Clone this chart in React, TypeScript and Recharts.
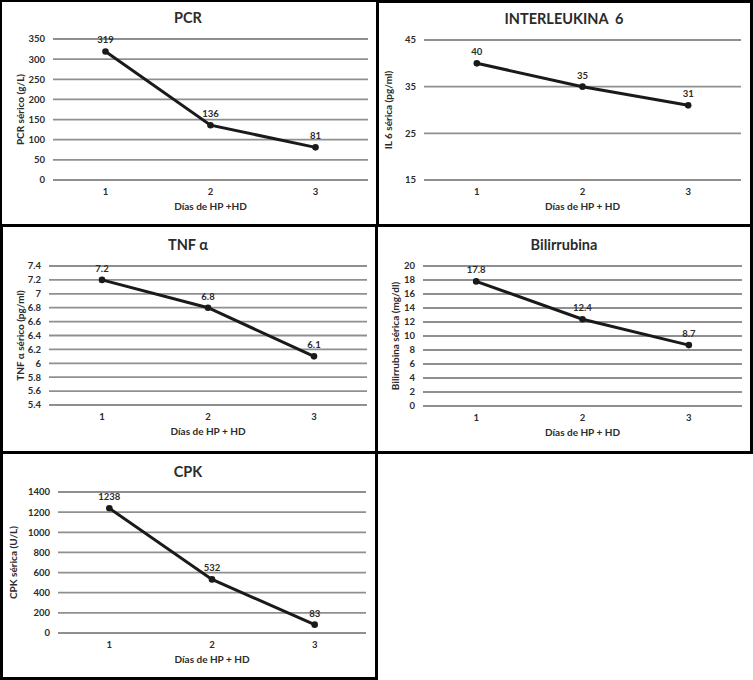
import { CartesianGrid, LabelList, Line, LineChart, XAxis, YAxis } from "recharts";

const days = ["1", "2", "3"];

const pcrValues = [319, 136, 81];
const il6Values = [40, 35, 31];
const tnfValues = [7.2, 6.8, 6.1];
const biliValues = [17.8, 12.4, 8.7];
const cpkValues = [1238, 532, 83];

const pcrTicks = [0, 50, 100, 150, 200, 250, 300, 350];
const il6Ticks = [15, 25, 35, 45];
const tnfTicks = [5.4, 5.6, 5.8, 6, 6.2, 6.4, 6.6, 6.8, 7, 7.2, 7.4];
const biliTicks = [0, 2, 4, 6, 8, 10, 12, 14, 16, 18, 20];
const cpkTicks = [0, 200, 400, 600, 800, 1000, 1200, 1400];

const TEXT = "#2b2b2b";
const FONT = "Lato, 'Open Sans', sans-serif";

const fmt = (v: number) => String(Number(Number(v).toFixed(1)));

interface Box {
  left: number;
  top: number;
  width: number;
  height: number;
}

interface PanelProps {
  title: string;
  titleY: number;
  box: Box;
  margin: { top: number; right: number; bottom: number; left: number };
  yWidth: number;
  yLabelOffset: number;
  values: number[];
  ticks: number[];
  yLabel: string;
  xLabel: string;
}

function Panel({ title, titleY, box, margin, yWidth, yLabelOffset, values, ticks, yLabel, xLabel }: PanelProps) {
  const data = days.map((d, i) => ({ day: d, v: values[i] }));
  // one band per day, points at band centres (Excel-style category axis)
  const pad = (box.width - margin.left - margin.right - yWidth) / (days.length * 2);
  return (
    <>
      <div
        style={{
          position: "absolute",
          left: box.left,
          width: box.width,
          top: titleY - 10,
          height: 20,
          lineHeight: "20px",
          textAlign: "center",
          fontSize: 14.5,
          fontWeight: 700,
          color: TEXT,
          fontFamily: FONT,
          whiteSpace: "pre",
        }}
      >
        {title}
      </div>
      <div style={{ position: "absolute", left: box.left, top: box.top, fontFamily: FONT }}>
        <LineChart width={box.width} height={box.height} data={data} margin={margin}>
          <CartesianGrid vertical={false} stroke="#8f8f8f" strokeWidth={1.8} />
          <XAxis
            dataKey="day"
            axisLine={false}
            tickLine={false}
            height={30}
            padding={{ left: pad, right: pad }}
            tick={{ fill: TEXT, fontSize: 9.5, fontWeight: 700 }}
            label={{ value: xLabel, position: "insideBottom", offset: 0, fill: TEXT, fontSize: 10, fontWeight: 700 }}
          />
          <YAxis
            type="number"
            domain={[ticks[0], ticks[ticks.length - 1]]}
            ticks={ticks}
            interval={0}
            width={yWidth}
            axisLine={false}
            tickLine={false}
            tickFormatter={fmt}
            tick={{ fill: TEXT, fontSize: 9.5, fontWeight: 700 }}
            label={{
              value: yLabel,
              angle: -90,
              position: "insideLeft",
              offset: yLabelOffset,
              fill: TEXT,
              fontSize: 10,
              fontWeight: 700,
              style: { textAnchor: "middle" },
            }}
          />
          <Line
            type="linear"
            dataKey="v"
            stroke="#1a1a1a"
            strokeWidth={3}
            dot={{ r: 3.3, fill: "#1a1a1a", stroke: "none" }}
            isAnimationActive={false}
          >
            <LabelList dataKey="v" position="top" offset={8} fill={TEXT} fontSize={9.5} fontWeight={700} formatter={fmt} />
          </Line>
        </LineChart>
      </div>
    </>
  );
}

const frames = [
  { left: 0, top: 0, width: 378, height: 226, b: 2 },
  { left: 376, top: 0, width: 377, height: 227, b: 3 },
  { left: 0, top: 224, width: 378, height: 230, b: 3 },
  { left: 375, top: 224, width: 378, height: 230, b: 3 },
  { left: 0, top: 451, width: 378, height: 229, b: 3 },
];

export default function App() {
  return (
    <div style={{ position: "absolute", left: 0, top: 0, width: 753, height: 680, background: "#fff", overflow: "hidden" }}>
      <Panel
        title="PCR"
        titleY={18}
        box={{ left: 0, top: 0, width: 376, height: 224 }}
        margin={{ top: 39, right: 8, bottom: 14, left: 13 }}
        yWidth={40}
        yLabelOffset={7}
        values={pcrValues}
        ticks={pcrTicks}
        yLabel="PCR sérico (g/L)"
        xLabel="Días de HP +HD"
      />
      <Panel
        title="INTERLEUKINA  6"
        titleY={19}
        box={{ left: 378, top: 0, width: 372, height: 224 }}
        margin={{ top: 40, right: 9, bottom: 14, left: 6 }}
        yWidth={40}
        yLabelOffset={4}
        values={il6Values}
        ticks={il6Ticks}
        yLabel="IL 6 sérica (pg/ml)"
        xLabel="Días de HP + HD"
      />
      <Panel
        title="TNF α"
        titleY={245}
        box={{ left: 0, top: 226, width: 376, height: 226 }}
        margin={{ top: 40, right: 9, bottom: 17, left: 9 }}
        yWidth={40}
        yLabelOffset={11}
        values={tnfValues}
        ticks={tnfTicks}
        yLabel="TNF α sérico  (pg/ml)"
        xLabel="Días de HP + HD"
      />
      <Panel
        title="Bilirrubina"
        titleY={245}
        box={{ left: 378, top: 226, width: 372, height: 226 }}
        margin={{ top: 40, right: 8, bottom: 16, left: 5 }}
        yWidth={40}
        yLabelOffset={12}
        values={biliValues}
        ticks={biliTicks}
        yLabel="Bilirrubina sérica (mg/dl)"
        xLabel="Días de HP + HD"
      />
      <Panel
        title="CPK"
        titleY={472}
        box={{ left: 0, top: 453, width: 376, height: 225 }}
        margin={{ top: 39, right: 10, bottom: 15, left: 5 }}
        yWidth={53}
        yLabelOffset={8}
        values={cpkValues}
        ticks={cpkTicks}
        yLabel="CPK sérica (U/L)"
        xLabel="Días de HP + HD"
      />
      {frames.map((f, i) => (
        <div
          key={i}
          style={{
            position: "absolute",
            left: f.left,
            top: f.top,
            width: f.width,
            height: f.height,
            border: `${f.b}px solid #000`,
            boxSizing: "border-box",
            pointerEvents: "none",
          }}
        />
      ))}
    </div>
  );
}
